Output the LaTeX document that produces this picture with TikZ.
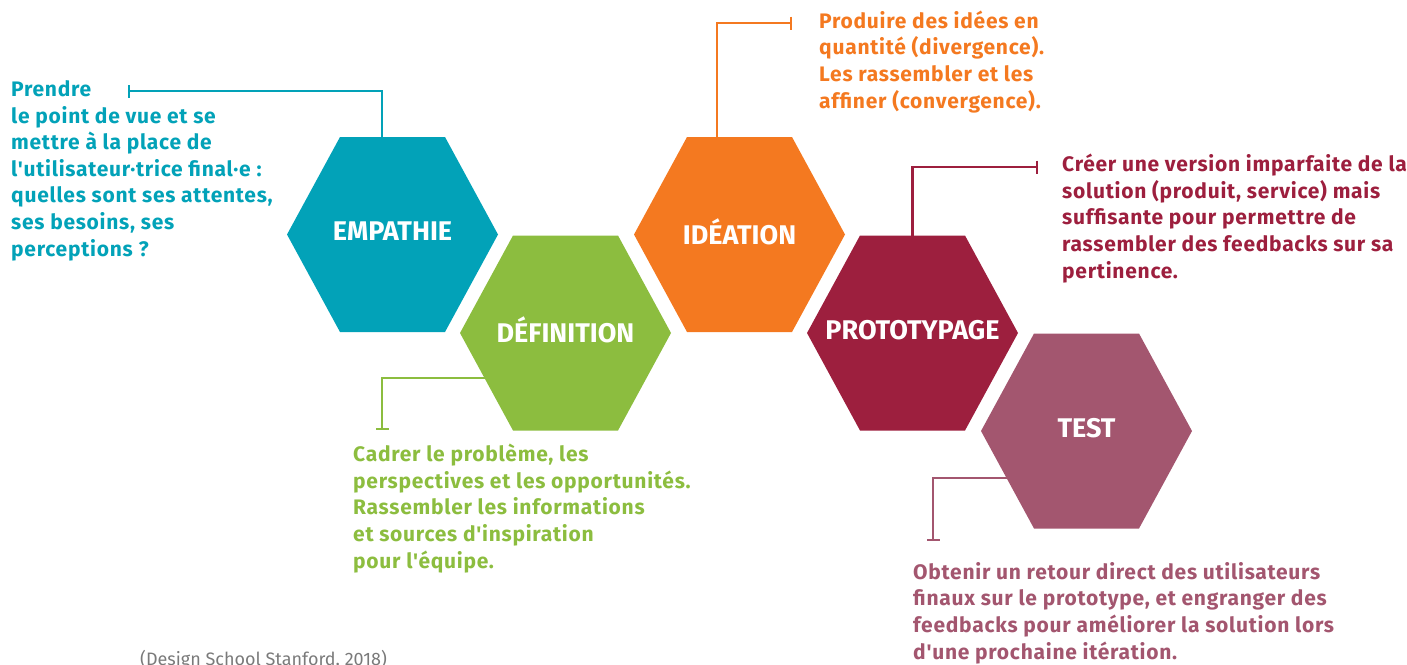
\documentclass[tikz,border=0pt]{standalone}
\usepackage{fontspec}
\setmainfont{Fira Sans}
\newfontfamily\descfont{Fira Sans}[LetterSpace=3.5]
\usetikzlibrary{arrows.meta,backgrounds}
\definecolor{cEmp}{HTML}{02A2B8}
\definecolor{cDef}{HTML}{8CBD3F}
\definecolor{cIde}{HTML}{F47920}
\definecolor{cPro}{HTML}{9D1F3E}
\definecolor{cTst}{HTML}{A3566F}
\definecolor{cGray}{HTML}{7A7A7A}
% hexagon centred 3pt below the label node's centre
\newcommand\hexfill[2]{%
  \fill[#2] ([xshift=-105.5pt,yshift=-3pt]#1.center) -- ([xshift=-52.5pt,yshift=94.5pt]#1.center)
    -- ([xshift=52.5pt,yshift=94.5pt]#1.center) -- ([xshift=105.5pt,yshift=-3pt]#1.center)
    -- ([xshift=52.5pt,yshift=-100.5pt]#1.center) -- ([xshift=-52.5pt,yshift=-100.5pt]#1.center) -- cycle;}
\begin{document}
\begin{tikzpicture}[x=1pt,y=-1pt,
  hexlabel/.style={text=white, font=\bfseries\fontsize{27}{27}\selectfont, inner sep=0pt},
  desc/.style={align=left, anchor=base west, inner sep=0pt,
    font=\descfont\bfseries\fontsize{21}{26.6}\selectfont},
  conn/.style={line width=2.3pt, -{Bar[width=13pt]}}]
\useasboundingbox (0,0) rectangle (1407,664);
\clip (0,0) rectangle (1407,664);

% hexagon labels
\node[hexlabel] (emp) at (392.5,231.5) {EMPATHIE};
\node[hexlabel] (def) at (565.5,330) {DÉFINITION};
\node[hexlabel] (ide) at (739.5,231.5) {IDÉATION};
\node[hexlabel] (pro) at (912.5,330) {PROTOTYPAGE};
\node[hexlabel] (tst) at (1086.5,428) {TEST};

% connector end points
\coordinate (empTip) at (128,91);
\coordinate (ideTip) at (792,23);
\coordinate (proTip) at (1038,167);
\coordinate (defTip) at (382,430);
\coordinate (tstTip) at (933,541);

\begin{pgfonlayer}{background}
  \draw[conn, cEmp] ([xshift=-10.5pt]emp.center) |- (empTip);
  \draw[conn, cIde] ([xshift=-22.5pt]ide.center) |- (ideTip);
  \draw[conn, cPro] (pro.center) |- (proTip);
  \draw[conn, cDef] ([yshift=-48pt]def.center) -| (defTip);
  \draw[conn, cTst] ([yshift=-50pt]tst.center) -| (tstTip);
  \hexfill{emp}{cEmp}
  \hexfill{def}{cDef}
  \hexfill{ide}{cIde}
  \hexfill{pro}{cPro}
  \hexfill{tst}{cTst}
\end{pgfonlayer}

% descriptions (anchored at the baseline of their last line)
\node[desc, text=cEmp] (empText) at (11,256) {Prendre\\le point de vue et se\\mettre à la place de\\l'utilisateur·trice final·e :\\quelles sont ses attentes,\\ses besoins, ses\\perceptions ?};
\node[desc, text=cIde] (ideText) at (819,108) {Produire des idées en\\quantité (divergence).\\Les rassembler et les\\affiner (convergence).};
\node[desc, text=cPro] (proText) at (1062,278) {Créer une version imparfaite de la\\solution (produit, service) mais\\suffisante pour permettre de\\rassembler des feedbacks sur sa\\pertinence.};
\node[desc, text=cDef] (defText) at (353,568) {Cadrer le problème, les\\perspectives et les opportunités.\\Rassembler les informations\\et sources d'inspiration\\pour l'équipe.};
\node[desc, text=cTst] (tstText) at (913,659) {Obtenir un retour direct des utilisateurs\\finaux sur le prototype, et engranger des\\feedbacks pour améliorer la solution lors\\d'une prochaine itération.};

\node[anchor=base west, inner sep=0pt, text=cGray, font=\fontsize{18}{18}\selectfont] (cite) at (140,665) {(Design School Stanford, 2018)};
\end{tikzpicture}
\end{document}
